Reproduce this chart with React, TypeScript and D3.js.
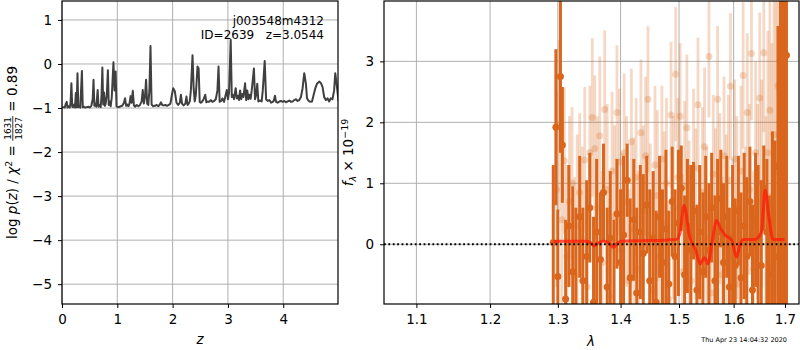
import React, { useEffect, useRef } from 'react';
import * as d3 from 'd3';

// redshift probability curve (left panel)
const pzZ = [
  0.0, 0.03, 0.05, 0.07, 0.085, 0.1, 0.12, 0.14, 0.155, 0.17, 0.185, 0.2, 0.22, 0.235, 0.25, 0.265, 0.28, 0.295, 0.31, 0.33,
  0.36, 0.375, 0.39, 0.42, 0.45, 0.48, 0.5, 0.53, 0.555, 0.57, 0.585, 0.6, 0.62, 0.645, 0.66, 0.68, 0.7, 0.715, 0.73, 0.745,
  0.76, 0.775, 0.79, 0.81, 0.83, 0.845, 0.86, 0.88, 0.9, 0.93, 0.95, 0.97, 0.985, 1.0, 1.03, 1.06, 1.09, 1.12, 1.14, 1.16,
  1.18, 1.2, 1.22, 1.24, 1.26, 1.28, 1.3, 1.32, 1.35, 1.38, 1.41, 1.44, 1.46, 1.48, 1.5, 1.52, 1.54, 1.56, 1.58, 1.6,
  1.62, 1.65, 1.68, 1.71, 1.74, 1.77, 1.79, 1.81, 1.84, 1.87, 1.9, 1.93, 1.96, 1.98, 2.01, 2.04, 2.07, 2.1, 2.13, 2.15,
  2.17, 2.2, 2.23, 2.25, 2.27, 2.29, 2.31, 2.33, 2.36, 2.38, 2.4, 2.42, 2.45, 2.47, 2.49, 2.51, 2.53, 2.56, 2.59, 2.61,
  2.63, 2.66, 2.69, 2.72, 2.75, 2.78, 2.81, 2.83, 2.85, 2.88, 2.9, 2.93, 2.96, 2.98, 3.0, 3.02, 3.05, 3.07, 3.09, 3.11,
  3.14, 3.16, 3.18, 3.2, 3.22, 3.24, 3.26, 3.28, 3.31, 3.33, 3.35, 3.37, 3.39, 3.41, 3.43, 3.45, 3.47, 3.49, 3.51, 3.53,
  3.55, 3.58, 3.61, 3.63, 3.665, 3.69, 3.72, 3.75, 3.78, 3.81, 3.83, 3.85, 3.87, 3.9, 3.93, 3.96, 3.99, 4.02, 4.05, 4.08,
  4.11, 4.14, 4.17, 4.2, 4.23, 4.26, 4.29, 4.32, 4.35, 4.38, 4.41, 4.43, 4.46, 4.49, 4.52, 4.55, 4.58, 4.61, 4.65, 4.68,
  4.71, 4.74, 4.77, 4.8, 4.83, 4.86, 4.89, 4.92, 4.94, 4.97, 5.0,
];
const pzLog = [
  -0.99, -0.98, -0.99, -0.9, -0.86, -0.99, -0.96, -0.99, -0.88, -0.44, -0.97, -0.98, -0.92, -0.99, -0.66, -0.98, -0.21, -0.98, -0.95, -0.99,
  -0.16, -0.98, -0.97, -0.99, -0.98, -0.97, -0.99, -0.95, -0.8, -0.36, -0.95, -0.9, -0.97, -0.59, -0.97, -0.93, -0.98, -0.7, -0.08, -0.92,
  -0.65, -0.95, -0.9, -0.7, -0.14, -0.93, -0.85, -0.96, -0.75, 0.04, -0.6, -0.17, -0.96, -0.97, -0.98, -0.96, -0.95, -0.88, -0.78, -0.95,
  -0.92, -0.96, -0.9, -0.73, -0.88, -0.61, -0.94, -0.97, -0.93, -0.96, -0.93, -0.85, -0.59, -0.9, -0.75, -0.36, -0.9, -0.93, -0.6, 0.41,
  -0.92, -0.96, -0.95, -0.93, -0.96, -0.92, -0.87, -0.93, -0.94, -0.93, -0.95, -0.93, -0.9, -0.75, -0.55, -0.62, -0.88, -0.93, -0.88, -0.7,
  -0.9, -0.94, -0.9, -0.74, -0.93, -0.9, -0.85, -0.6, 0.2, -0.55, -0.85, -0.7, -0.06, -0.1, -0.86, -0.88, -0.86, -0.8, -0.7, -0.87,
  -0.85, -0.86, -0.82, -0.86, -0.84, -0.8, -0.6, -0.06, -0.86, -0.84, -0.78, -0.86, -0.7, -0.59, -0.8, -0.65, 0.55, -0.75, -0.7, -0.8,
  -0.55, -0.78, -0.72, -0.82, -0.6, -0.8, -0.68, -0.75, -0.44, -0.82, -0.6, -0.8, -0.7, -0.79, -0.6, -0.35, -0.1, -0.8, -0.7, -0.45,
  -0.85, -0.83, -0.85, -0.6, 0.07, -0.8, -0.84, -0.82, -0.88, -0.86, -0.83, -0.72, -0.86, -0.88, -0.85, -0.84, -0.86, -0.84, -0.87, -0.85,
  -0.83, -0.86, -0.85, -0.82, -0.8, -0.84, -0.82, -0.75, -0.55, -0.21, -0.45, -0.78, -0.84, -0.86, -0.85, -0.7, -0.55, -0.45, -0.4, -0.43,
  -0.52, -0.75, -0.82, -0.78, -0.85, -0.78, -0.8, -0.6, -0.21, -0.5, -0.85,
];

// binned spectrum (dark error bars)
const darkLam = [
  1.293, 1.297, 1.3, 1.304, 1.307, 1.312, 1.317, 1.323, 1.328, 1.334, 1.339, 1.345, 1.35, 1.356, 1.361, 1.367, 1.372, 1.378, 1.383, 1.389,
  1.394, 1.4, 1.405, 1.411, 1.416, 1.422, 1.427, 1.433, 1.438, 1.444, 1.449, 1.455, 1.46, 1.466, 1.471, 1.477, 1.482, 1.488, 1.493, 1.499,
  1.504, 1.51, 1.515, 1.521, 1.526, 1.532, 1.537, 1.543, 1.548, 1.554, 1.559, 1.565, 1.57, 1.576, 1.581, 1.587, 1.592, 1.598, 1.603, 1.609,
  1.614, 1.62, 1.625, 1.631, 1.636, 1.642, 1.647, 1.653, 1.658, 1.664, 1.669, 1.675, 1.68, 1.686, 1.691, 1.695, 1.699, 1.703,
];
const darkFlux = [
  0.03, 1.92, -0.53, 2.75, 1.63, -0.9, 0.3, -0.45, -1.1, 0.45, -0.6, -0.2, 0.6, -0.95, 0.2, -0.25, 0.85, -0.7, 0.1, -1.2,
  0.5, -0.3, 0.15, 1.05, -0.55, 0.4, -0.8, 0.2, -0.15, 0.65, -0.6, 0.1, -0.95, 0.45, -0.3, 0.25, -0.65, 0.7, -0.2, 0.35,
  0.92, -0.5, 0.3, -0.1, 0.55, -0.75, 0.2, -0.45, 0.45, -0.1, 0.6, -0.6, 0.2, 0.75, -0.3, 0.45, -0.7, 0.1, -0.35, 0.55,
  -0.55, 0.3, -0.2, 0.7, -0.75, 0.4, 0.1, -0.35, 0.92, 0.2, -0.5, 0.35, -0.2, 1.28, 1.13, 0.4, 0.9, 3.1,
];
const darkErr = [
  1.27, 1.28, 1.1, 1.25, 0.95, 1.3, 1.0, 1.4, 1.7, 1.0, 1.2, 1.25, 0.9, 1.4, 1.2, 1.1, 0.8, 1.3, 1.1, 1.6,
  0.9, 1.2, 1.3, 0.6, 1.3, 1.0, 1.4, 1.1, 1.3, 0.8, 1.5, 1.1, 1.5, 1.0, 1.2, 1.3, 1.2, 0.9, 1.1, 1.2,
  0.7, 1.3, 1.1, 1.4, 0.8, 1.4, 1.1, 1.3, 1.0, 1.1, 0.9, 1.4, 1.2, 0.8, 1.3, 1.0, 1.3, 1.2, 1.1, 0.9,
  1.4, 1.2, 1.3, 0.9, 1.4, 1.1, 1.2, 1.4, 0.7, 1.2, 1.3, 1.5, 1.9, 2.3, 3.2, 4.2, 4.5, 4.3,
];

// unbinned spectrum (light error bars)
const lightLam = [
  1.298, 1.302, 1.306, 1.31, 1.314, 1.318, 1.322, 1.326, 1.33, 1.334, 1.338, 1.342, 1.346, 1.35, 1.354, 1.358, 1.362, 1.366, 1.37, 1.374,
  1.378, 1.382, 1.386, 1.39, 1.394, 1.398, 1.402, 1.406, 1.41, 1.414, 1.418, 1.422, 1.426, 1.43, 1.434, 1.438, 1.442, 1.446, 1.45, 1.454,
  1.458, 1.462, 1.466, 1.47, 1.474, 1.478, 1.482, 1.486, 1.49, 1.494, 1.498, 1.502, 1.506, 1.51, 1.514, 1.518, 1.522, 1.526, 1.53, 1.534,
  1.538, 1.542, 1.546, 1.55, 1.554, 1.558, 1.562, 1.566, 1.57, 1.574, 1.578, 1.582, 1.586, 1.59, 1.594, 1.598, 1.602, 1.606, 1.61, 1.614,
  1.618, 1.622, 1.626, 1.63, 1.634, 1.638, 1.642, 1.646, 1.65, 1.654, 1.658, 1.662, 1.666, 1.67, 1.674, 1.678, 1.682, 1.686,
];
const lightFlux = [
  0.9, 1.95, 0.4, 1.37, -0.2, 0.7, 1.0, -0.5, 0.3, 0.85, 0.1, 1.38, -0.7, 1.5, 2.08, 1.57, 0.6, 1.78, -0.3, 2.21,
  0.9, -0.85, 1.2, 0.45, 2.16, 1.35, -0.1, 1.5, 0.7, -0.6, 1.68, 0.25, 1.1, -0.4, 1.83, 0.55, 1.45, 2.38, 0.15, -0.75,
  1.3, 0.8, -0.2, 1.4, 0.35, 1.0, -0.9, 2.12, 0.6, 2.79, 1.1, 2.1, -0.45, 0.95, 1.91, 0.2, -0.6, 1.25, 0.5, 2.29,
  -0.3, 0.85, 1.6, 0.1, 3.08, -0.8, 1.15, 0.4, 2.38, 0.75, -0.5, 1.45, 0.3, 1.05, 2.59, -0.2, 1.4, 0.6, -0.65, 1.2,
  2.77, 0.0, 2.16, 0.9, 3.13, -0.4, 1.5, 0.7, 2.4, 1.0, 3.14, 0.2, 1.5, 2.2, 0.8, 1.8, 1.2, 2.6,
];
const lightErr = [
  1.6, 1.4, 1.5, 1.2, 1.5, 1.4, 1.25, 1.6, 1.5, 1.3, 1.5, 1.2, 1.6, 1.1, 1.3, 1.2, 1.5, 1.3, 1.5, 1.3,
  1.4, 1.6, 1.3, 1.5, 1.1, 1.2, 1.6, 1.3, 1.4, 1.5, 1.2, 1.5, 1.3, 1.6, 1.2, 1.4, 1.3, 1.2, 1.5, 1.6,
  1.3, 1.4, 1.5, 1.2, 1.5, 1.4, 1.6, 1.2, 1.5, 1.1, 1.3, 1.2, 1.6, 1.4, 1.2, 1.5, 1.5, 1.3, 1.4, 1.1,
  1.6, 1.4, 1.3, 1.5, 1.0, 1.6, 1.3, 1.5, 1.2, 1.4, 1.6, 1.3, 1.5, 1.4, 1.2, 1.6, 1.3, 1.5, 1.5, 1.4,
  1.2, 1.6, 1.3, 1.4, 1.1, 1.6, 1.5, 1.6, 1.4, 1.7, 1.3, 1.9, 2.0, 2.2, 2.5, 2.6, 3.0, 3.0,
];

// best-fit model (red line)
const modelLam = [
  1.293, 1.3, 1.345, 1.352, 1.357, 1.363, 1.371, 1.38, 1.388, 1.395, 1.4, 1.45, 1.48, 1.496, 1.502, 1.509, 1.519, 1.53,
  1.5375, 1.546, 1.552, 1.56, 1.568, 1.576, 1.584, 1.596, 1.6057, 1.612, 1.619, 1.641, 1.648, 1.654, 1.6603, 1.668, 1.676, 1.699,
];
const modelFlux = [
  0.04, 0.05, 0.05, 0.02, -0.03, 0.02, 0.05, 0.03, -0.05, 0.02, 0.05, 0.06, 0.07, 0.08, 0.2, 0.64, 0.12, -0.1,
  -0.32, -0.22, -0.32, 0.05, 0.39, 0.25, 0.15, 0.07, -0.21, 0.0, 0.08, 0.08, 0.12, 0.23, 0.89, 0.45, 0.08, 0.08,
];

const zTicks = [0, 1, 2, 3, 4];
const pzTicks = [1, 0, -1, -2, -3, -4, -5];
const lamTicks = [1.1, 1.2, 1.3, 1.4, 1.5, 1.6, 1.7];
const fluxTicks = [0, 1, 2, 3];

const NB = '\u00a0';

const App = () => {
  const svgRef = useRef(null);

  useEffect(() => {
    const svg = d3.select(svgRef.current);
    svg.selectAll('*').remove();
    const font = 'DejaVu Sans, sans-serif';
    const orange = '#d9661c';
    svg.attr('font-family', font);

    const defs = svg.append('defs');

    // spines, grid and ticks for one panel
    const drawFrame = (id, x, y, xTicks, yTicks, xFmt, yFmt) => {
      const [x0, x1] = x.range();
      const [y0, y1] = y.range();
      defs.append('clipPath').attr('id', id)
        .append('rect').attr('x', x0).attr('y', y1).attr('width', x1 - x0).attr('height', y0 - y1);

      const grid = svg.append('g').attr('stroke', '#b0b0b0').attr('stroke-width', 1);
      xTicks.forEach((t) => {
        const px = x(t);
        grid.append('line').attr('x1', px).attr('x2', px).attr('y1', y1).attr('y2', y0);
      });
      yTicks.forEach((t) => {
        const py = y(t);
        grid.append('line').attr('x1', x0).attr('x2', x1).attr('y1', py).attr('y2', py);
      });

      const gx = svg.append('g').attr('transform', `translate(0,${y0})`)
        .call(d3.axisBottom(x).tickValues(xTicks).tickFormat(xFmt).tickSize(4).tickPadding(6));
      const gy = svg.append('g').attr('transform', `translate(${x0},0)`)
        .call(d3.axisLeft(y).tickValues(yTicks).tickFormat(yFmt).tickSize(4).tickPadding(6));
      [gx, gy].forEach((g) => {
        g.select('.domain').remove();
        g.selectAll('text').attr('font-size', 13.5).attr('font-family', font).attr('fill', '#000');
        g.selectAll('line').attr('stroke', '#000').attr('stroke-width', 1);
      });
      return () => svg.append('rect').attr('x', x0).attr('y', y1).attr('width', x1 - x0).attr('height', y0 - y1)
        .attr('fill', 'none').attr('stroke', '#000').attr('stroke-width', 1.2);
    };

    // rotated label built from pieces (italic, sub/superscripts)
    const rotLabel = (cxPos, pieces) => {
      const g = svg.append('g');
      let cx = 0;
      pieces.forEach((p) => {
        if (p.frac) {
          const num = g.append('text').attr('y', -6).attr('font-size', 9).attr('text-anchor', 'middle').text(p.frac[0]);
          const den = g.append('text').attr('y', 4.5).attr('font-size', 9).attr('text-anchor', 'middle').text(p.frac[1]);
          const fw = Math.max(num.node().getComputedTextLength(), den.node().getComputedTextLength()) + 2;
          num.attr('x', cx + fw / 2);
          den.attr('x', cx + fw / 2);
          g.append('line').attr('x1', cx).attr('x2', cx + fw).attr('y1', -4.2).attr('y2', -4.2)
            .attr('stroke', '#000').attr('stroke-width', 0.8);
          cx += fw;
          return;
        }
        const t = g.append('text').attr('x', cx).attr('y', p.dy || 0)
          .attr('font-size', p.size || 13.5)
          .attr('font-style', p.italic ? 'italic' : 'normal')
          .text(p.text);
        cx += t.node().getComputedTextLength();
      });
      g.attr('transform', `translate(${cxPos},${152.5 + cx / 2}) rotate(-90)`);
    };

    // left panel: log p(z)
    const xZ = d3.scaleLinear().domain([0, 4.99]).range([62, 338]);
    const yP = d3.scaleLinear().domain([-5.45, 1.43]).range([304, 1]);
    const spineL = drawFrame('clipL', xZ, yP, zTicks, pzTicks, d3.format('d'), d3.format('d'));

    const pz = pzZ.map((z, i) => [z, pzLog[i]]);
    svg.append('path')
      .datum(pz)
      .attr('clip-path', 'url(#clipL)')
      .attr('fill', 'none')
      .attr('stroke', '#404040')
      .attr('stroke-width', 2)
      .attr('stroke-linejoin', 'round')
      .attr('d', d3.line().x((d) => xZ(d[0])).y((d) => yP(d[1])));
    spineL();

    const note = svg.append('g').attr('font-size', 12).attr('text-anchor', 'end');
    note.append('text').attr('x', 324).attr('y', 24.5).text('j003548m4312');
    note.append('text').attr('x', 324).attr('y', 38.5).text(`ID=2639${NB}${NB}${NB}z=3.0544`);

    svg.append('text').attr('x', 200).attr('y', 344).attr('text-anchor', 'middle')
      .attr('font-size', 13.5).attr('font-style', 'italic').text('z');

    rotLabel(17, [
      { text: `log${NB}` },
      { text: 'p', italic: true },
      { text: '(' },
      { text: 'z', italic: true },
      { text: `)${NB}/${NB}` },
      { text: '\u03c7', italic: true },
      { text: '2', size: 9.5, dy: -5.5 },
      { text: `${NB}=${NB}` },
      { frac: ['1631', '1827'] },
      { text: `${NB}=${NB}0.89` },
    ]);

    // right panel: spectrum
    const xL = d3.scaleLog().domain([1.0587, 1.7284]).range([384, 799]);
    const yF = d3.scaleLinear().domain([-0.98, 3.99]).range([304, 1]);
    const spineR = drawFrame('clipR', xL, yF, lamTicks, fluxTicks, d3.format('.1f'), d3.format('d'));

    const plot = svg.append('g').attr('clip-path', 'url(#clipR)');

    const light = plot.append('g').attr('fill', orange).attr('stroke', orange);
    lightLam.forEach((l, i) => {
      light.append('line')
        .attr('x1', xL(l)).attr('x2', xL(l))
        .attr('y1', yF(lightFlux[i] - lightErr[i])).attr('y2', yF(lightFlux[i] + lightErr[i]))
        .attr('stroke-width', 2.8).attr('stroke-opacity', 0.25);
      light.append('circle').attr('cx', xL(l)).attr('cy', yF(lightFlux[i])).attr('r', 3.5)
        .attr('stroke', 'none').attr('fill-opacity', 0.25);
    });

    const dark = plot.append('g').attr('fill', orange).attr('stroke', orange);
    darkLam.forEach((l, i) => {
      dark.append('line')
        .attr('x1', xL(l)).attr('x2', xL(l))
        .attr('y1', yF(darkFlux[i] - darkErr[i])).attr('y2', yF(darkFlux[i] + darkErr[i]))
        .attr('stroke-width', 3);
      dark.append('circle').attr('cx', xL(l)).attr('cy', yF(darkFlux[i])).attr('r', 3.5).attr('stroke', 'none');
    });

    const model = modelLam.map((l, i) => [l, modelFlux[i]]);
    plot.append('path')
      .datum(model)
      .attr('fill', 'none')
      .attr('stroke', '#ff1a0a')
      .attr('stroke-opacity', 0.75)
      .attr('stroke-width', 3)
      .attr('stroke-linejoin', 'round')
      .attr('d', d3.line().curve(d3.curveMonotoneX).x((d) => xL(d[0])).y((d) => yF(d[1])));

    plot.append('line')
      .attr('x1', 384).attr('x2', 799).attr('y1', yF(0)).attr('y2', yF(0))
      .attr('stroke', '#000').attr('stroke-width', 1.8).attr('stroke-dasharray', '1.8,2.6');
    spineR();

    svg.append('text').attr('x', 591).attr('y', 346).attr('text-anchor', 'middle')
      .attr('font-size', 13.5).attr('font-style', 'italic').text('\u03bb');

    rotLabel(353, [
      { text: 'f', italic: true },
      { text: '\u03bb', italic: true, size: 9.5, dy: 3 },
      { text: `${NB}\u00d7${NB}10` },
      { text: '\u221219', size: 9.5, dy: -5.5 },
    ]);

    svg.append('text').attr('x', 787).attr('y', 341.5).attr('text-anchor', 'end')
      .attr('font-size', 6.5).text('Thu Apr 23 14:04:32 2020');
  }, []);

  return (
    <svg ref={svgRef} width={800} height={350} style={{ position: 'absolute', left: 0, top: 0 }}></svg>
  );
};

export default App;
